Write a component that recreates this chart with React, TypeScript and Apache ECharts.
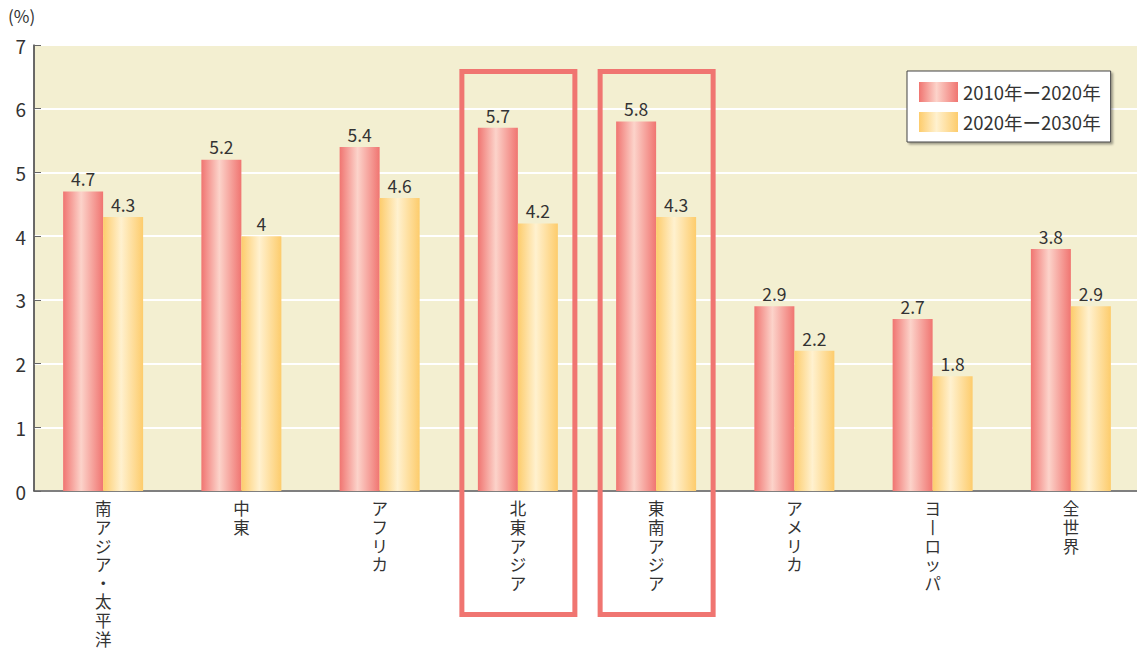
import React, { useEffect, useRef } from "react";
import * as echarts from "echarts";

const categories = ["南アジア・太平洋", "中東", "アフリカ", "北東アジア", "東南アジア", "アメリカ", "ヨーロッパ", "全世界"];
const growth2010to2020 = [4.7, 5.2, 5.4, 5.7, 5.8, 2.9, 2.7, 3.8];
const growth2020to2030 = [4.3, 4.0, 4.6, 4.2, 4.3, 2.2, 1.8, 2.9];
const seriesNames = ["2010年ー2020年", "2020年ー2030年"];
const highlighted = ["北東アジア", "東南アジア"];
const yTicks = [0, 1, 2, 3, 4, 5, 6, 7];

const FONT = "'Noto Sans CJK JP', 'Noto Sans', sans-serif";
const TEXT = "#333333";

const barGradient = (edge: string, mid: string) =>
  new echarts.graphic.LinearGradient(0, 0, 1, 0, [
    { offset: 0, color: edge },
    { offset: 0.45, color: mid },
    { offset: 1, color: edge },
  ]);

// Stack characters vertically; long-vowel marks turn upright in vertical text
const verticalText = (s: string) =>
  Array.from(s)
    .map((c) => (c === "ー" ? "丨" : c))
    .join("\n");

export default function App() {
  const ref = useRef<HTMLDivElement>(null);

  useEffect(() => {
    if (!ref.current) return;
    const chart = echarts.init(ref.current, null, { renderer: "svg" });

    const valueLabel = {
      show: true,
      position: "top" as const,
      distance: 4,
      color: TEXT,
      fontSize: 17.5,
      fontFamily: FONT,
    };

    chart.setOption({
      animation: false,
      textStyle: { fontFamily: FONT },
      grid: {
        left: 34,
        top: 45,
        width: 1106,
        bottom: 157,
        containLabel: false,
        outerBoundsMode: "none",
        show: true,
        backgroundColor: "#f3efd1",
        borderColor: "#555555",
        borderWidth: 1,
      },
      legend: {
        orient: "vertical",
        left: 907,
        top: 71,
        itemWidth: 39,
        itemHeight: 20,
        itemGap: 10,
        padding: [11, 10, 10, 12],
        backgroundColor: "#ffffff",
        borderColor: "#444444",
        borderWidth: 1,
        shadowColor: "rgba(0,0,0,0.35)",
        shadowBlur: 2,
        shadowOffsetX: 2,
        shadowOffsetY: 2,
        icon: "rect",
        textStyle: { fontSize: 18.5, color: TEXT, fontFamily: FONT },
        data: seriesNames,
      },
      xAxis: {
        type: "category",
        data: categories,
        axisLine: { lineStyle: { color: "#555555", width: 1.5 } },
        axisTick: { show: false },
        axisLabel: {
          interval: 0,
          margin: 8,
          color: TEXT,
          fontSize: 16.5,
          lineHeight: 18.6,
          verticalAlign: "top",
          fontFamily: FONT,
          formatter: (v: string) => verticalText(v),
        },
      },
      yAxis: {
        type: "value",
        min: yTicks[0],
        max: yTicks[yTicks.length - 1],
        interval: 1,
        axisLine: { show: true, lineStyle: { color: "#555555", width: 1.5 } },
        axisTick: { show: true, inside: true, length: 7, lineStyle: { color: "#666666" } },
        splitLine: { show: true, lineStyle: { color: "#ffffff", width: 2 } },
        axisLabel: { color: TEXT, fontSize: 19, margin: 8, fontFamily: FONT },
      },
      series: [
        {
          name: seriesNames[0],
          type: "bar",
          data: growth2010to2020,
          barWidth: 40,
          barGap: "0%",
          itemStyle: { color: barGradient("#f07571", "#fcd3ca") },
          label: valueLabel,
        },
        {
          name: seriesNames[1],
          type: "bar",
          data: growth2020to2030,
          barWidth: 40,
          barGap: "0%",
          itemStyle: { color: barGradient("#fdcc6c", "#fff1cf") },
          label: valueLabel,
        },
      ],
    });

    // Frames around the highlighted regions, positioned from the category axis
    const frames = highlighted.map((cat) => {
      const cx = chart.convertToPixel({ xAxisIndex: 0 }, cat) as number;
      return {
        type: "rect",
        shape: { x: cx - 56, y: 71.5, width: 113, height: 543 },
        style: { fill: "none", stroke: "#f07571", lineWidth: 5 },
        z: 10,
      };
    });

    chart.setOption({
      graphic: [
        {
          type: "text",
          left: 8,
          top: 7,
          style: { text: "(%)", fontSize: 17, fill: TEXT, fontFamily: FONT },
        },
        ...frames,
      ],
    });

    return () => chart.dispose();
  }, []);

  return (
    <div
      ref={ref}
      style={{ position: "fixed", left: 0, top: 0, width: 1137, height: 648, background: "#ffffff" }}
    />
  );
}
